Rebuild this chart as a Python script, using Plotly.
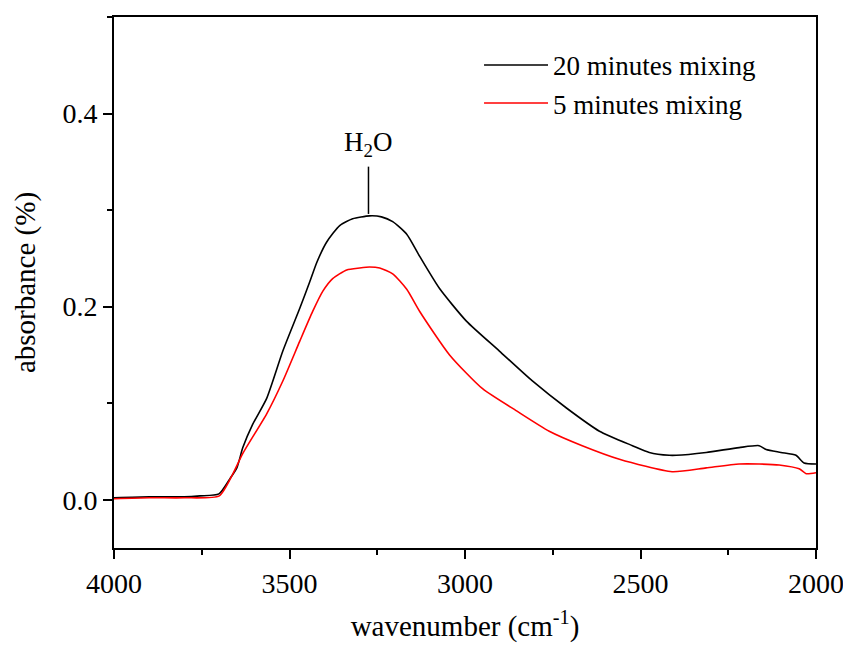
import plotly.graph_objects as go

# Wavenumber (cm^-1) and absorbance
wn_20 = [4000, 3900, 3800, 3755, 3701, 3670, 3650, 3633, 3605, 3565, 3519, 3471, 3442, 3422,
         3394, 3357, 3320, 3272, 3238, 3206, 3166, 3129, 3073, 2996, 2902, 2808,
         2711, 2617, 2523, 2475, 2418, 2398, 2313, 2219, 2162, 2142, 2100, 2057, 2034, 2000]
abs_20 = [0.002, 0.003, 0.003, 0.004, 0.006, 0.0216, 0.033, 0.054, 0.078, 0.105, 0.154, 0.198,
          0.226, 0.246, 0.267, 0.284, 0.291, 0.294, 0.293, 0.288, 0.275, 0.252, 0.219,
          0.185, 0.154, 0.123, 0.095, 0.071, 0.056, 0.049, 0.046, 0.046, 0.049, 0.054,
          0.056, 0.052, 0.049, 0.046, 0.038, 0.037]

wn_5 = [4000, 3900, 3800, 3700, 3661, 3633, 3565, 3519, 3471, 3434, 3405, 3377, 3337, 3300,
        3272, 3243, 3206, 3166, 3129, 3044, 2950, 2853, 2760, 2666, 2560, 2410,
        2313, 2219, 2162, 2105, 2048, 2028, 2000]
abs_5 = [0.001, 0.002, 0.002, 0.004, 0.027, 0.048, 0.089, 0.123, 0.164, 0.195, 0.216, 0.229,
         0.238, 0.240, 0.241, 0.240, 0.234, 0.218, 0.195, 0.150, 0.115, 0.092, 0.071,
         0.056, 0.042, 0.029, 0.033, 0.037, 0.037, 0.036, 0.032, 0.027, 0.028]

peak_wn = 3275
peak_label = "H<sub>2</sub>O"

FONT = "Liberation Serif"

fig = go.Figure()
fig.add_trace(go.Scatter(x=wn_20, y=abs_20, mode="lines", name="20 minutes mixing",
                         line=dict(color="black", width=1.6, shape="spline", smoothing=0.6)))
fig.add_trace(go.Scatter(x=wn_5, y=abs_5, mode="lines", name="5 minutes mixing",
                         line=dict(color="red", width=1.6, shape="spline", smoothing=0.6)))

fig.add_shape(type="line", x0=peak_wn, x1=peak_wn, y0=0.296, y1=0.345,
              xref="x", yref="y", line=dict(color="black", width=1.5))
fig.add_annotation(x=peak_wn, y=0.345, text=peak_label, showarrow=False,
                   yanchor="bottom", xref="x", yref="y", yshift=4,
                   font=dict(family=FONT, size=27, color="black"))

fig.update_layout(
    width=843, height=641,
    margin=dict(l=106, r=34, t=7, b=101),
    paper_bgcolor="white", plot_bgcolor="white",
    font=dict(family=FONT, size=27, color="black"),
    legend=dict(x=0.52, y=0.955, xanchor="left", yanchor="top",
                bgcolor="rgba(0,0,0,0)", font=dict(family=FONT, size=27),
                itemwidth=64, tracegroupgap=0),
    xaxis=dict(range=[4000, 2000], tickvals=[4000, 3500, 3000, 2500, 2000],
               ticks="outside", ticklen=9, tickwidth=1.5, tickcolor="black",
               minor=dict(ticks="outside", ticklen=5, tickwidth=1.5, tickcolor="black",
                          dtick=250, tick0=2000),
               showline=True, linecolor="black", linewidth=2, mirror=True,
               showgrid=False, zeroline=False, ticklabeloverflow="allow",
               tickfont=dict(family=FONT, size=28),
               title=dict(text="wavenumber (cm<sup>-1</sup>)",
                          font=dict(family=FONT, size=29), standoff=18)),
    yaxis=dict(range=[-0.05, 0.5], tickvals=[0.0, 0.2, 0.4], tickformat=".1f",
               ticks="outside", ticklen=9, tickwidth=1.5, tickcolor="black",
               minor=dict(ticks="outside", ticklen=5, tickwidth=1.5, tickcolor="black",
                          dtick=0.1, tick0=0),
               showline=True, linecolor="black", linewidth=2, mirror=True,
               showgrid=False, zeroline=False,
               tickfont=dict(family=FONT, size=28),
               title=dict(text="absorbance (%)", font=dict(family=FONT, size=29), standoff=18)),
)

fig.write_html("out.html")
